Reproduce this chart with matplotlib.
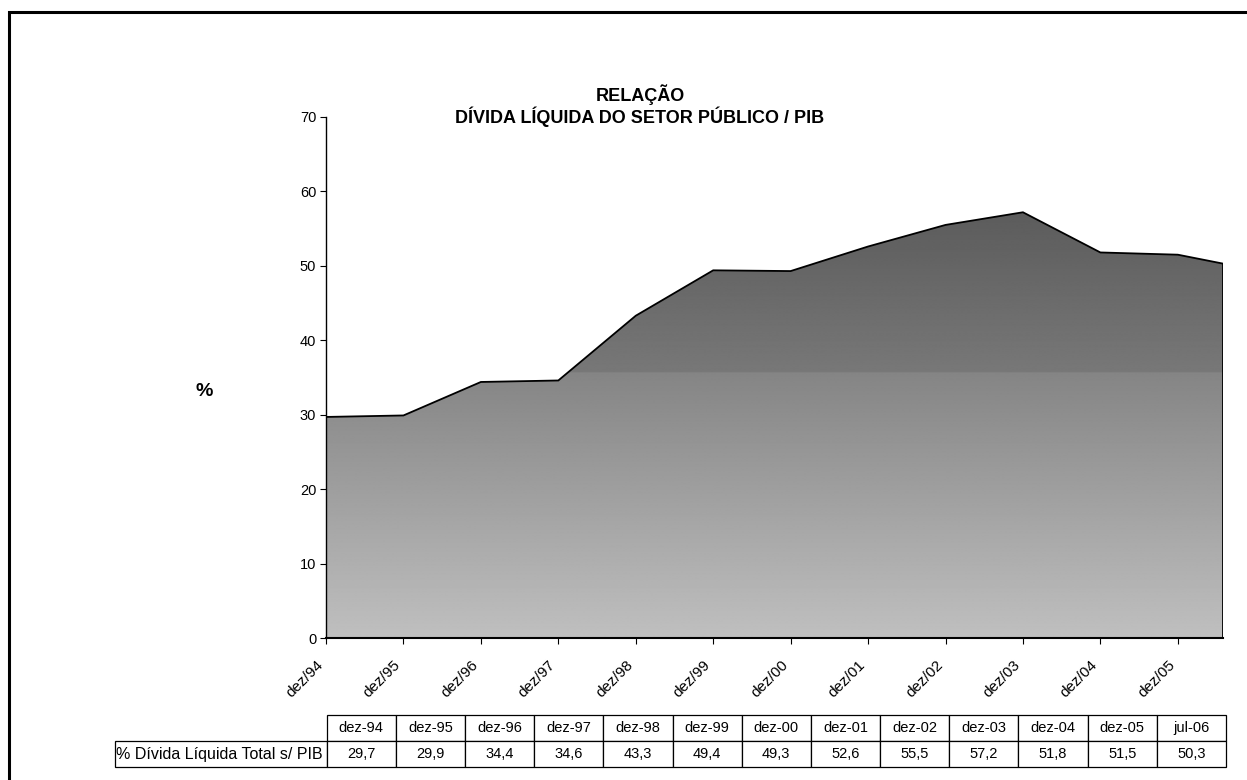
import numpy as np
import matplotlib.pyplot as plt
from matplotlib.patches import Polygon, Rectangle
from matplotlib.transforms import ScaledTranslation

plt.rcParams['font.family'] = ['Liberation Sans', 'DejaVu Sans']

periods = ['dez-94', 'dez-95', 'dez-96', 'dez-97', 'dez-98', 'dez-99', 'dez-00',
           'dez-01', 'dez-02', 'dez-03', 'dez-04', 'dez-05', 'jul-06']
years = [0, 1, 2, 3, 4, 5, 6, 7, 8, 9, 10, 11, 11 + 7 / 12]
debt = [29.7, 29.9, 34.4, 34.6, 43.3, 49.4, 49.3, 52.6, 55.5, 57.2, 51.8, 51.5, 50.3]
tick_labels = ['dez/94', 'dez/95', 'dez/96', 'dez/97', 'dez/98', 'dez/99', 'dez/00',
               'dez/01', 'dez/02', 'dez/03', 'dez/04', 'dez/05']
row_label = '% Dívida Líquida Total s/ PIB'

fig = plt.figure(figsize=(12.47, 7.8), dpi=100)
W, H = 1247, 780

# outer frame
fig.patches.append(Rectangle((9 / W, -0.02), 1.05, 0.02 + 1 - 12 / H, transform=fig.transFigure,
                             fill=False, lw=2.2, ec='black', zorder=0))

ax = fig.add_axes([326 / W, 1 - 638 / H, (1223 - 326) / W, (638 - 117) / H])
ax.set_zorder(3)
ax.set_xlim(years[0], years[-1])
ax.set_ylim(0, 70)

# gradient fill clipped to the area polygon
yy = np.linspace(0, 70, 700)
split = 35.7
shade = np.where(yy < split,
                 0.75 - (0.75 - 0.52) * yy / split,
                 0.47 - (0.47 - 0.36) * (yy - split) / (57.2 - split))
img = np.repeat(shade[:, None], 2, axis=1)
im = ax.imshow(img, cmap='gray', vmin=0, vmax=1, origin='lower', aspect='auto',
               extent=[years[0], years[-1], 0, 70], interpolation='bilinear', zorder=1)

verts = [(years[0], 0)] + list(zip(years, debt)) + [(years[-1], 0)]
poly = Polygon(verts, closed=True, fc='none', ec='black', lw=1.3, zorder=2)
ax.add_patch(poly)
im.set_clip_path(poly)

for s in ['top', 'right']:
    ax.spines[s].set_visible(False)
ax.spines['left'].set_linewidth(1.0)
ax.spines['bottom'].set_linewidth(1.5)

ax.set_yticks(range(0, 71, 10))
ax.tick_params(axis='y', labelsize=10.5, length=4, pad=3)
ax.set_xticks(range(len(tick_labels)))
ax.set_xticklabels(tick_labels, rotation=45, ha='right', va='center',
                   rotation_mode='anchor', fontsize=11)
ax.tick_params(axis='x', length=4, pad=14)
shift = ScaledTranslation(-5 / 100, 0, fig.dpi_scale_trans)
for lab in ax.get_xticklabels():
    lab.set_transform(lab.get_transform() + shift)

fig.text(640 / W, 1 - 95 / H, 'RELAÇÃO', ha='center', va='center',
         fontsize=13, fontweight='bold')
fig.text(640 / W, 1 - 117 / H, 'DÍVIDA LÍQUIDA DO SETOR PÚBLICO / PIB', ha='center',
         va='center', fontsize=13, fontweight='bold')
fig.text(204 / W, 1 - 392 / H, '%', ha='center', va='center', fontsize=14,
         fontweight='bold')

# data table
tax = fig.add_axes([115 / W, 1 - 767 / H, (1226 - 115) / W, (767 - 715) / H])
tax.axis('off')
cells = [[''] + periods, [row_label] + [f'{v:.1f}'.replace('.', ',') for v in debt]]
widths = [211] + [69] * len(periods)
tot = sum(widths)
tbl = tax.table(cellText=cells, colWidths=[w / tot for w in widths],
                cellLoc='center', bbox=[0, 0, 1, 1])
tbl.auto_set_font_size(False)
for (r, c), cell in tbl.get_celld().items():
    cell.set_fontsize(10.5)
    cell.set_linewidth(0.9)
    if r == 0 and c == 0:
        cell.visible_edges = ''
    if r == 1 and c == 0:
        cell.set_fontsize(11.5)
        cell._loc = 'left'
        cell.PAD = 0.005
        cell.get_text().set_ha('left')

fig.savefig('out.png', dpi=100)
